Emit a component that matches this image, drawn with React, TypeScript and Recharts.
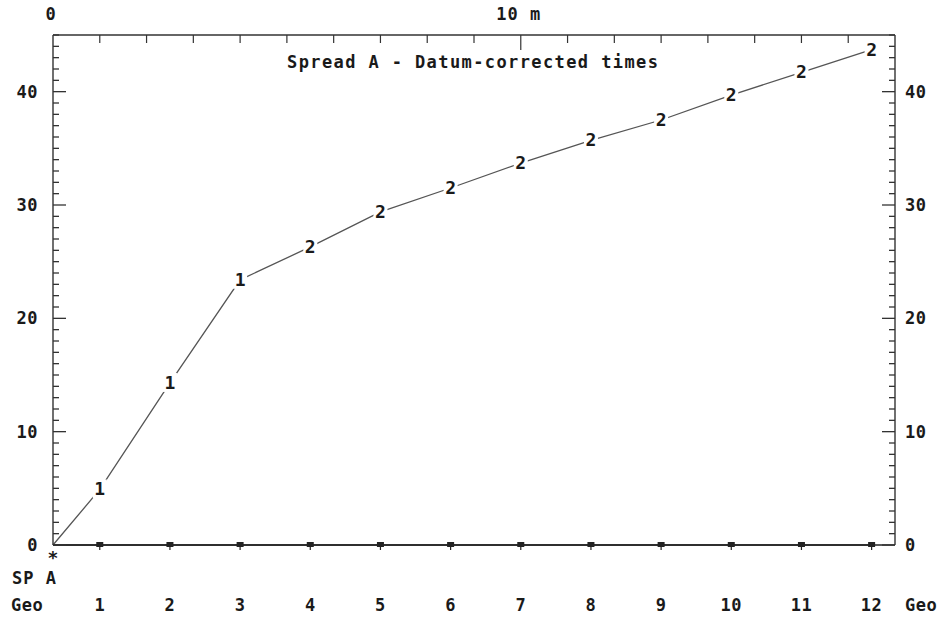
import { LineChart, Line, XAxis, YAxis } from 'recharts';

// geophone spread, offsets in metres from the shot point
const geoNumbers = [1, 2, 3, 4, 5, 6, 7, 8, 9, 10, 11, 12];
const geoOffsets = [1, 2.5, 4, 5.5, 7, 8.5, 10, 11.5, 13, 14.5, 16, 17.5];
// datum-corrected arrival times (ms) and the layer each one was picked on
const arrivalTimes = [4.9, 14.3, 23.4, 26.3, 29.4, 31.5, 33.7, 35.7, 37.5, 39.7, 41.7, 43.7];
const layerCodes = ['1', '1', '1', '2', '2', '2', '2', '2', '2', '2', '2', '2'];
const datumTimes = [0, 0, 0, 0, 0, 0, 0, 0, 0, 0, 0, 0];

const shotOffset = 0;
const shotLabel = 'SP A';
const distanceTicks = [0, 1, 2, 3, 4, 5, 6, 7, 8, 9, 10, 11, 12, 13, 14, 15, 16, 17, 18];
const distanceLabels: Record<number, string> = { 0: '0', 10: '10 m' };
const timeTicks = Array.from({ length: 46 }, (_, i) => i);
const timeLabels = [0, 10, 20, 30, 40];

const title = 'Spread A - Datum-corrected times';

const data = [
  { x: shotOffset, t: 0, datum: 0, layer: null as string | null },
  ...geoOffsets.map((x, i) => ({ x, t: arrivalTimes[i], datum: datumTimes[i], layer: layerCodes[i] })),
];

const font = {
  fontFamily: '"DejaVu Sans Mono", "Liberation Mono", monospace',
  fontWeight: 700,
  fontSize: 17,
  fill: '#1a1a1a',
};

const tickLen = (v: number) => (v % 10 === 0 ? 13 : 6);

const LeftTick = (props: any) => {
  const { x, y, payload } = props;
  const v = payload.value;
  return (
    <g>
      <line x1={x} y1={y} x2={x + tickLen(v)} y2={y} stroke="#333" strokeWidth={1.3} />
      {timeLabels.includes(v) && (
        <text x={x - 15} y={y + 6} textAnchor="end" {...font} letterSpacing={0.5}>
          {v}
        </text>
      )}
    </g>
  );
};

const RightTick = (props: any) => {
  const { x, y, payload } = props;
  const v = payload.value;
  return (
    <g>
      <line x1={x} y1={y} x2={x - tickLen(v)} y2={y} stroke="#333" strokeWidth={1.3} />
      {timeLabels.includes(v) && (
        <text x={x + 10} y={y + 6} textAnchor="start" {...font} letterSpacing={0.5}>
          {v}
        </text>
      )}
    </g>
  );
};

const TopTick = (props: any) => {
  const { x, y, payload } = props;
  const v = payload.value;
  const len = v === 10 ? 15 : 8;
  return (
    <g>
      {v > 0 && v < 18 && <line x1={x} y1={y} x2={x} y2={y + len} stroke="#333" strokeWidth={1.2} />}
      {distanceLabels[v] !== undefined && (
        <text x={x - 2} y={y - 15} textAnchor="middle" {...font} letterSpacing={1}>
          {distanceLabels[v]}
        </text>
      )}
    </g>
  );
};

const BottomTick = (props: any) => {
  const { x, y, payload } = props;
  const v = payload.value;
  if (v === shotOffset) {
    return (
      <g>
        <text x={x} y={y + 19} textAnchor="middle" {...font} fontSize={18}>*</text>
        <text x={12} y={y + 39} {...font} letterSpacing={1}>{shotLabel}</text>
        <text x={11} y={y + 66} {...font} letterSpacing={0.5}>Geo</text>
      </g>
    );
  }
  if (v === 18) {
    return (
      <text x={x + 10} y={y + 66} {...font} letterSpacing={0.5}>Geo</text>
    );
  }
  const i = geoOffsets.indexOf(v);
  return (
    <text x={x} y={y + 66} textAnchor="middle" {...font} letterSpacing={0.5}>
      {geoNumbers[i]}
    </text>
  );
};

const LayerDot = (props: any) => {
  const { cx, cy, payload, index } = props;
  if (!payload.layer) return <g key={index} />;
  return (
    <g key={index}>
      <rect x={cx - 7} y={cy - 10} width={14} height={19} fill="#fff" />
      <text x={cx} y={cy + 6} textAnchor="middle" {...font} fontSize={18}>
        {payload.layer}
      </text>
    </g>
  );
};

const DatumDot = (props: any) => {
  const { cx, cy, payload, index } = props;
  if (!payload.layer) return <g key={index} />;
  return (
    <g key={index}>
      <rect x={cx - 3.5} y={cy - 3} width={7} height={5} fill="#222" />
      <line x1={cx} y1={cy} x2={cx} y2={cy + 5} stroke="#222" strokeWidth={1.2} />
    </g>
  );
};

export default function App() {
  return (
    <div style={{ position: 'absolute', left: 0, top: 0, width: 941, height: 622, background: '#fff' }}>
      <LineChart width={941} height={622} data={data} margin={{ top: 0, right: 0, bottom: 0, left: 0 }}>
        <XAxis
          xAxisId="bottom"
          dataKey="x"
          type="number"
          domain={[0, 18]}
          ticks={[shotOffset, ...geoOffsets, 18]}
          interval={0}
          height={77}
          tickSize={0}
          tickMargin={0}
          tickLine={false}
          tick={BottomTick}
          axisLine={{ stroke: '#222', strokeWidth: 1.6 }}
        />
        <XAxis
          xAxisId="top"
          dataKey="x"
          type="number"
          orientation="top"
          domain={[0, 18]}
          ticks={distanceTicks}
          interval={0}
          height={35}
          tickSize={0}
          tickMargin={0}
          tickLine={false}
          tick={TopTick}
          axisLine={{ stroke: '#333', strokeWidth: 1.4 }}
        />
        <YAxis
          yAxisId="left"
          type="number"
          domain={[0, 45]}
          ticks={timeTicks}
          interval={0}
          width={53}
          tickSize={0}
          tickMargin={0}
          tickLine={false}
          tick={LeftTick}
          axisLine={{ stroke: '#333', strokeWidth: 1.4 }}
        />
        <YAxis
          yAxisId="right"
          orientation="right"
          type="number"
          domain={[0, 45]}
          ticks={timeTicks}
          interval={0}
          width={46}
          tickSize={0}
          tickMargin={0}
          tickLine={false}
          tick={RightTick}
          axisLine={{ stroke: '#333', strokeWidth: 1.4 }}
        />
        <Line
          xAxisId="top"
          yAxisId="right"
          dataKey="t"
          stroke="none"
          dot={false}
          activeDot={false}
          legendType="none"
          isAnimationActive={false}
        />
        <Line
          xAxisId="bottom"
          yAxisId="left"
          dataKey="datum"
          type="linear"
          stroke="#222"
          strokeWidth={1.4}
          dot={DatumDot}
          activeDot={false}
          isAnimationActive={false}
        />
        <Line
          xAxisId="bottom"
          yAxisId="left"
          dataKey="t"
          type="linear"
          stroke="#555"
          strokeWidth={1.3}
          dot={LayerDot}
          activeDot={false}
          isAnimationActive={false}
        />
      </LineChart>
      <div
        style={{
          position: 'absolute',
          left: 287,
          top: 52,
          fontFamily: '"DejaVu Sans Mono", monospace',
          fontWeight: 700,
          fontSize: 17,
          letterSpacing: 1.4,
          color: '#1a1a1a',
          whiteSpace: 'nowrap',
        }}
      >
        {title}
      </div>
    </div>
  );
}
